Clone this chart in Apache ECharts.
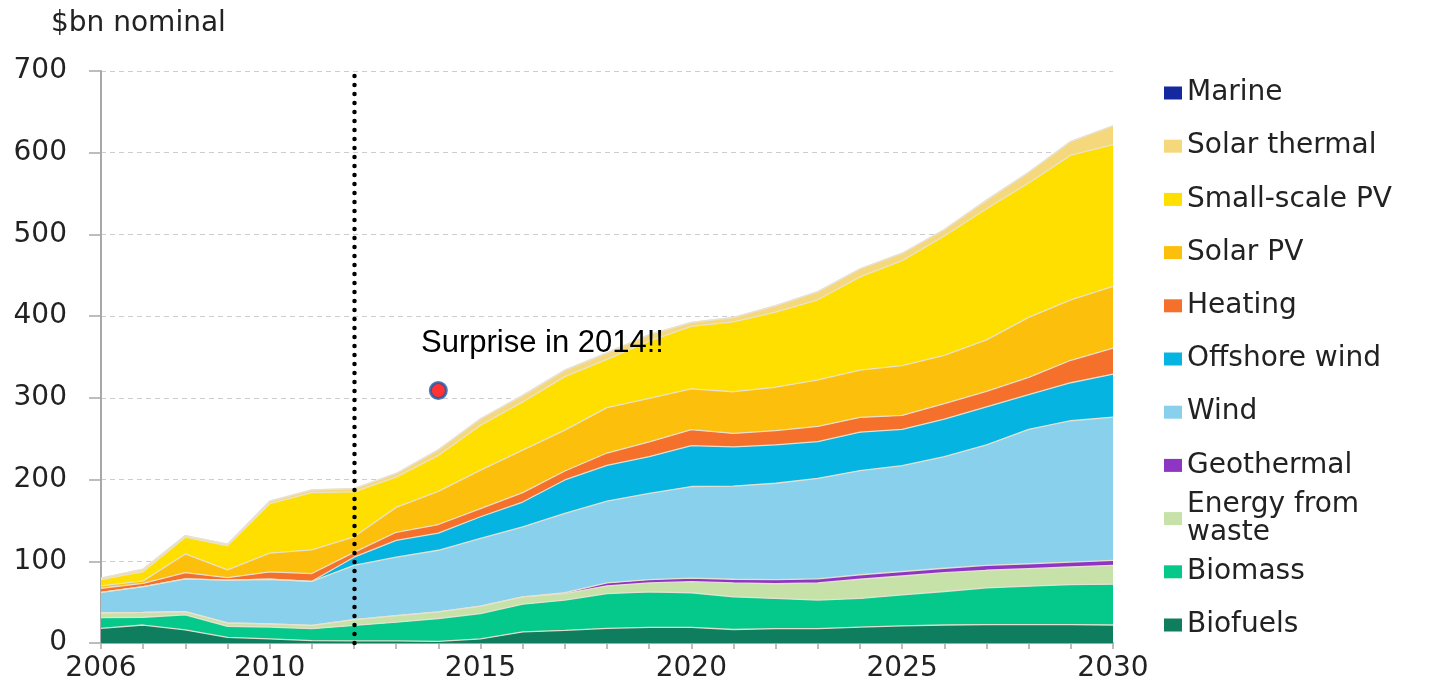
<!DOCTYPE html>
<html>
<head>
<meta charset="utf-8">
<script src="https://cdn.jsdelivr.net/npm/echarts@6/dist/echarts.min.js"></script>
<style>html,body{margin:0;padding:0;background:#fff}#c{width:1435px;height:686px}</style>
</head>
<body>
<div id="c"></div>
<script>
// ---------- DATA ----------
const years = ['2006','2007','2008','2009','2010','2011','2012','2013','2014','2015','2016','2017','2018',
               '2019','2020','2021','2022','2023','2024','2025','2026','2027','2028','2029','2030'];
const xTickLabels = ['2006','2010','2015','2020','2025','2030'];
const yMin = 0, yMax = 700, yStep = 100;
const yAxisTitle = '$bn nominal';

const biofuels        = [18, 22, 16, 7, 5, 3, 2.5, 2.5, 2, 5, 13.5, 15.5, 18, 19, 19, 16.5, 17.5, 17.5, 19.5, 21, 22, 22.5, 22.5, 22.5, 22];
const biomass         = [13, 9.5, 18.5, 13.5, 14.5, 14.5, 19, 23, 28, 31, 34, 37, 42.5, 43.5, 42.5, 40, 37, 35, 35, 38, 41, 45, 47, 49, 50];
const energyFromWaste = [6, 6, 4, 4, 4, 4, 7, 8, 8, 9, 9, 8, 9.5, 11, 13.5, 17, 18, 21, 23.5, 23, 23, 21.5, 21.5, 21.5, 23];
const geothermal      = [0, 0, 0, 0, 0, 0, 0, 0, 0, 0, 0, 1, 3.5, 4, 4.5, 4.5, 5, 5, 5.5, 5.5, 5.5, 6, 6, 6, 6];
const wind            = [25, 31.5, 40, 52.5, 54.5, 54, 66.5, 71.5, 75.5, 83, 85.5, 97, 100, 105.5, 112, 114, 118, 123, 127.5, 129.5, 136.5, 147.5, 164.5, 173, 175.5];
const offshoreWind    = [0, 0, 0, 0, 0, 0, 10, 20.5, 21, 26.5, 30.5, 41, 44, 45, 50, 48, 47, 45, 47, 44.5, 46, 46.5, 42.5, 46.5, 52.5];
const heating         = [5, 4, 7.5, 3, 9, 9.5, 6, 10, 10.5, 10, 11.5, 11, 15, 18, 19.5, 16.5, 17.5, 18.5, 18, 17, 19, 19, 21, 27.5, 32];
const solarPV         = [3, 3, 23, 9.5, 23, 29, 19, 30.5, 40.5, 47, 52, 50, 55.5, 53.5, 50, 51, 53, 57, 58, 61, 59, 63, 73.5, 74, 75.5];
const smallScalePV    = [7.5, 11.5, 20.5, 29.5, 60.5, 70, 55, 37, 44, 55, 59, 65.5, 59, 70, 76.5, 85.5, 92, 98, 114, 128.5, 146, 160.5, 164.5, 177, 173.5];
const solarThermal    = [2, 3, 2, 2, 3, 3.5, 4, 4.5, 7, 8, 8, 8, 8, 8, 5, 5.5, 8, 10, 10, 9, 8, 10.5, 13, 17, 23];
const marine          = [0, 0, 0, 0, 0, 0, 0, 0, 0, 0, 0, 0, 0, 0, 0, 0, 0, 0, 0, 0, 0, 0, 0, 0, 0];

const annotationText = 'Surprise in 2014!!';
const annotationPoint = ['2014', 309];
const dividerYear = '2012';

// ---------- STYLE ----------
const FONT = 'DejaVu Sans';
const stackOrder = [
  {name: 'Biofuels',          data: biofuels,        color: '#0f7e5f'},
  {name: 'Biomass',           data: biomass,         color: '#05c88b'},
  {name: 'Energy from waste', data: energyFromWaste, color: '#c6e2a8'},
  {name: 'Geothermal',        data: geothermal,      color: '#8e35c4'},
  {name: 'Wind',              data: wind,            color: '#88d0ec'},
  {name: 'Offshore wind',     data: offshoreWind,    color: '#06b4e2'},
  {name: 'Heating',           data: heating,         color: '#f5702a'},
  {name: 'Solar PV',          data: solarPV,         color: '#fcbf0c'},
  {name: 'Small-scale PV',    data: smallScalePV,    color: '#ffdf00'},
  {name: 'Solar thermal',     data: solarThermal,    color: '#f6d87c'},
  {name: 'Marine',            data: marine,          color: '#1428a0'}
];
const colorOf = {};
stackOrder.forEach(s => colorOf[s.name] = s.color);
const legendNames = stackOrder.map(s => s.name).reverse();

const areaSeries = stackOrder.map(s => ({
  name: s.name, type: 'line', stack: 'total', data: s.data,
  symbol: 'none', showSymbol: false, smooth: false,
  lineStyle: {width: 1.3, color: 'rgba(232,226,210,0.95)'},
  areaStyle: {color: s.color, opacity: 1},
  itemStyle: {color: s.color},
  emphasis: {disabled: true}, silent: true, z: 2
}));

const legends = legendNames.map((n, i) => {
  const c = 93 + i * 53.2;
  const isEfw = n === 'Energy from waste';
  return {
    orient: 'vertical', left: 1164, top: isEfw ? c - 42 : c - 14, padding: 0,
    itemWidth: 18, itemHeight: 13, icon: 'rect', selectedMode: false,
    data: [{name: n, itemStyle: {color: colorOf[n], borderWidth: 0}}],
    formatter: isEfw ? 'Energy from\nwaste' : '{name}',
    textStyle: {fontFamily: FONT, fontSize: 28, color: '#222', lineHeight: 28,
                padding: isEfw ? [28, 0, 0, 0] : 0}
  };
});

const chart = echarts.init(document.getElementById('c'), null, {renderer: 'canvas'});
chart.setOption({
  animation: false,
  backgroundColor: '#ffffff',
  title: {text: yAxisTitle, left: 51, top: 10, padding: 0,
          textStyle: {fontSize: 28, fontWeight: 'normal', fontFamily: FONT, color: '#222'}},
  legend: legends,
  grid: {left: 101, right: 322, top: 71, bottom: 43, containLabel: false, outerBoundsMode: 'none'},
  xAxis: {
    type: 'category', data: years, boundaryGap: false,
    axisLine: {show: true, lineStyle: {color: '#a8a8a8', width: 2}},
    axisTick: {show: true, interval: 0, length: 6, lineStyle: {color: '#a8a8a8', width: 1.5}},
    axisLabel: {interval: (i, v) => xTickLabels.includes(v), margin: 12,
                fontSize: 28, fontFamily: FONT, color: '#222'},
    splitLine: {show: false}
  },
  yAxis: {
    type: 'value', min: yMin, max: yMax, interval: yStep,
    axisLine: {show: true, lineStyle: {color: '#a8a8a8', width: 2}},
    axisTick: {show: true, length: 12, lineStyle: {color: '#a8a8a8', width: 1.5}},
    axisLabel: {margin: 34, fontSize: 28, fontFamily: FONT, color: '#222'},
    splitLine: {show: true, lineStyle: {type: [5, 4], color: '#cdcdcd', width: 1}}
  },
  series: areaSeries.concat([{
    name: 'annotation', type: 'scatter', data: [annotationPoint],
    symbol: 'circle', symbolSize: 16,
    itemStyle: {color: '#ff0000', borderColor: '#1e5aa8', borderWidth: 3},
    silent: true, z: 10,
    markLine: {
      silent: true, symbol: ['none', 'none'], label: {show: false},
      lineStyle: {color: '#000', width: 4.5, type: [0.1, 8.9], cap: 'round'},
      emphasis: {disabled: true},
      data: [{xAxis: dividerYear}]
    }
  }]),
  graphic: [{
    type: 'text', left: 421, top: 328, silent: true, z: 100, zlevel: 0,
    style: {text: annotationText, fontSize: 31, fontFamily: 'Liberation Sans', fill: '#000'}
  }]
});
</script>
</body>
</html>
